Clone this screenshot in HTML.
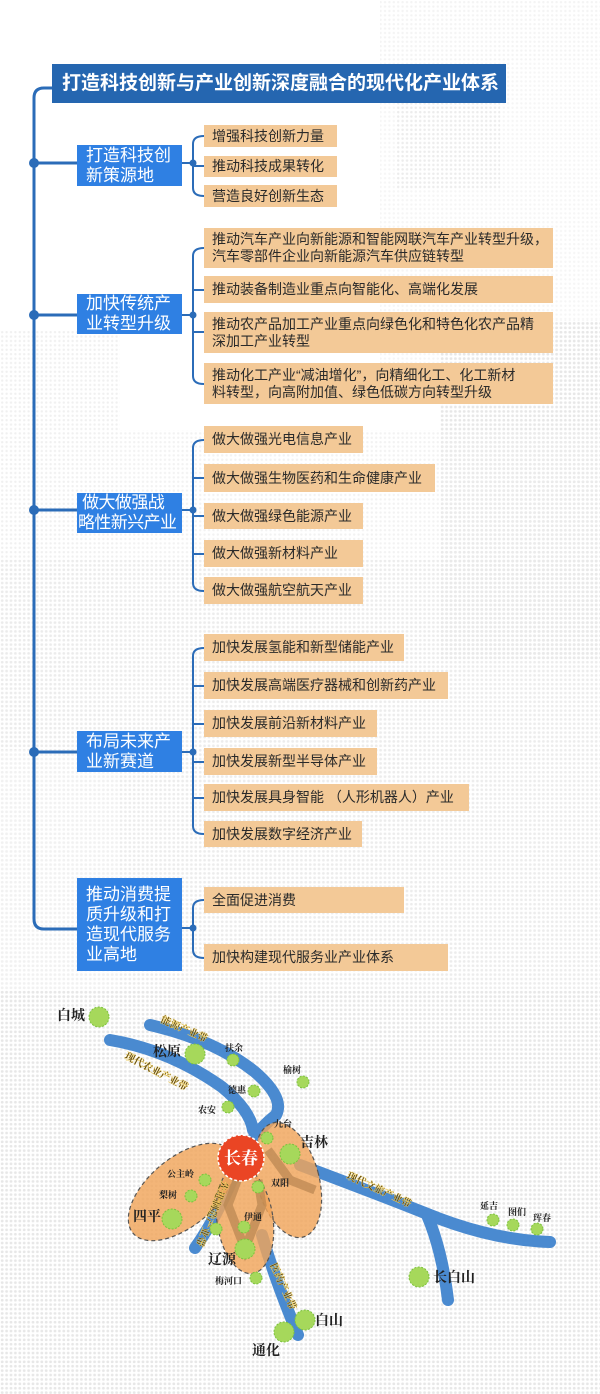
<!DOCTYPE html>
<html><head><meta charset="utf-8">
<style>
html,body{margin:0;padding:0;}
body{width:600px;height:1394px;position:relative;overflow:hidden;background:#fff;font-family:"Liberation Sans","Noto Sans CJK SC",sans-serif;}
.abs{position:absolute;}
.title{left:52px;top:64px;width:454px;height:39px;background:#2566b0;color:#fff;font-weight:bold;font-size:19px;line-height:39px;padding-left:10px;box-sizing:border-box;white-space:nowrap;}
.cat{left:77px;width:105px;background:#2f80e3;color:#fff;font-size:17px;line-height:20px;padding-left:9px;box-sizing:border-box;display:flex;align-items:center;white-space:nowrap;}
.it{left:204px;background:#f3c997;color:#2a2a2a;font-size:14px;line-height:17px;padding-left:8px;box-sizing:border-box;display:flex;align-items:center;white-space:nowrap;}
svg text{font-family:"Liberation Serif","Noto Serif CJK SC",serif;}
</style></head><body>
<svg class="abs" style="left:0;top:0" width="600" height="1394" viewBox="0 0 600 1394">
<defs>
<pattern id="dt" width="4.4" height="4.4" patternUnits="userSpaceOnUse"><circle cx="2.2" cy="2.2" r="1.2" fill="#e0e0e0"/></pattern>
<pattern id="dt2" width="4.4" height="4.4" patternUnits="userSpaceOnUse"><circle cx="2.2" cy="2.2" r="1.4" fill="#d8d8d8"/></pattern>
</defs>
<g opacity="0.6">
<rect x="380" y="0" width="220" height="60" fill="url(#dt)" opacity="0.6"/>
<rect x="395" y="100" width="105" height="90" fill="url(#dt)"/>
<rect x="380" y="60" width="220" height="340" fill="url(#dt)" opacity="0.5"/>
<rect x="440" y="320" width="160" height="340" fill="url(#dt2)"/>
<rect x="0" y="330" width="120" height="420" fill="url(#dt)" opacity="0.8"/>
<rect x="120" y="430" width="480" height="560" fill="url(#dt)" opacity="0.7"/>
<rect x="0" y="560" width="600" height="440" fill="url(#dt2)" opacity="0.6"/>
<rect x="0" y="990" width="600" height="404" fill="url(#dt2)"/>
</g>
<g stroke="#2b6cb8" stroke-width="3" fill="none">
<path d="M52,88 H44 Q34,88 34,98 V919 Q34,929 44,929 H77"/>
<path d="M34,163 H77 M34,315 H77 M34,510 H77 M34,752 H77"/>
</g>
<g fill="#2b6cb8"><circle cx="34" cy="163" r="5"/><circle cx="34" cy="315" r="5"/><circle cx="34" cy="510" r="5"/><circle cx="34" cy="752" r="5"/></g>
<g stroke="#2b6cb8" stroke-width="2" fill="none">
<path d="M182,163 H193 M204,136 Q193,136 193,144 V188 Q193,196 204,196 M193,166 H204"/>
<path d="M182,315 H193 M204,248 Q193,248 193,256 V376 Q193,384 204,384 M193,290 H204 M193,332 H204"/>
<path d="M182,510 H193 M204,440 Q193,440 193,448 V583 Q193,591 204,591 M193,478 H204 M193,516 H204 M193,554 H204"/>
<path d="M182,752 H193 M204,648 Q193,648 193,656 V826 Q193,834 204,834 M193,686 H204 M193,724 H204 M193,762 H204 M193,798 H204"/>
<path d="M182,928 H193 M204,900 Q193,900 193,908 V950 Q193,958 204,958"/>
</g>
<g fill="#2b6cb8"><circle cx="193" cy="163" r="3.5"/><circle cx="193" cy="315" r="3.5"/><circle cx="193" cy="510" r="3.5"/><circle cx="193" cy="752" r="3.5"/><circle cx="193" cy="928" r="3.5"/></g>

<!-- MAP -->
<g fill="none" stroke="#4a8ad0" stroke-width="12" stroke-linecap="round">
<path d="M150,1025 Q215,1040 255,1072 Q285,1098 276,1115 Q262,1126 252,1140 L241,1158"/>
<path d="M110,1040 Q170,1050 222,1087 Q250,1110 253,1130"/>
<path d="M300,1165 Q380,1195 425,1213 Q490,1240 550,1242"/>
<path d="M427,1215 Q442,1250 448,1300"/>
<path d="M262,1235 Q275,1280 298,1335"/>
<path d="M232,1180 Q215,1220 195,1248"/>
</g>
<g fill="#f0a55a" fill-opacity="0.82" stroke="#555" stroke-width="1.2" stroke-dasharray="4,3">
<ellipse cx="182" cy="1192" rx="64" ry="34" transform="rotate(-40 182 1192)"/>
<ellipse cx="288" cy="1180" rx="31" ry="59" transform="rotate(-15 288 1180)"/>
<ellipse cx="245" cy="1220" rx="28" ry="54" transform="rotate(-8 245 1220)"/>
</g>
<g stroke="#b88550" stroke-width="9" fill="none" opacity="0.7">
<path d="M241,1170 L228,1205 L245,1249 L262,1205 L258,1180"/>
<path d="M268,1150 L290,1180 L315,1190"/>
</g>
<g font-size="10" font-weight="bold" fill="#3a2a10" stroke="#f0d060" stroke-width="0.4">
<text x="160" y="1022" transform="rotate(24 160 1022)">能源产业带</text>
<text x="124" y="1058" transform="rotate(28 124 1058)">现代农业产业带</text>
<text x="346" y="1178" transform="rotate(25 346 1178)">现代文旅产业带</text>
<text x="270" y="1265" transform="rotate(66 270 1265)">医药产业带</text>
<text x="0" y="0" transform="translate(222,1180) rotate(112)">先进制造产业带</text>
</g>
<g fill="#a6d85b" stroke="#7cc23e" stroke-width="1" stroke-dasharray="2,1.5">
<circle cx="99" cy="1017" r="10"/><circle cx="195" cy="1054" r="10"/><circle cx="233" cy="1060" r="6"/>
<circle cx="303" cy="1082" r="6"/><circle cx="254" cy="1091" r="6"/><circle cx="228" cy="1107" r="6"/>
<circle cx="267" cy="1138" r="6"/><circle cx="290" cy="1154" r="10"/><circle cx="205" cy="1180" r="6"/>
<circle cx="191" cy="1196" r="6"/><circle cx="172" cy="1219" r="10"/><circle cx="258" cy="1187" r="6"/>
<circle cx="244" cy="1227" r="6"/><circle cx="245" cy="1249" r="10"/><circle cx="216" cy="1229" r="6"/>
<circle cx="256" cy="1278" r="6"/><circle cx="419" cy="1277" r="10"/><circle cx="305" cy="1320" r="10"/>
<circle cx="284" cy="1332" r="10"/><circle cx="493" cy="1220" r="6"/><circle cx="513" cy="1225" r="6"/><circle cx="537" cy="1229" r="6"/>
</g>
<circle cx="241" cy="1158" r="23" fill="#ea4524" stroke="#fff" stroke-width="1.5" stroke-dasharray="3,2"/>
<text x="241" y="1164" font-size="17" font-weight="bold" fill="#fff" text-anchor="middle">长春</text>
<g fill="#222" font-weight="bold">
<g font-size="14">
<text x="57" y="1020">白城</text><text x="153" y="1056">松原</text><text x="300" y="1147">吉林</text>
<text x="133" y="1221">四平</text><text x="208" y="1264">辽源</text><text x="433" y="1282">长白山</text>
<text x="315" y="1325">白山</text><text x="252" y="1355">通化</text>
</g>
<g font-size="9">
<text x="225" y="1051">扶余</text><text x="283" y="1073">榆树</text><text x="228" y="1093">德惠</text>
<text x="198" y="1113">农安</text><text x="274" y="1127">九台</text><text x="167" y="1177">公主岭</text>
<text x="159" y="1198">梨树</text><text x="271" y="1186">双阳</text><text x="244" y="1220">伊通</text>
<text x="215" y="1284">梅河口</text><text x="480" y="1209">延吉</text><text x="508" y="1215">图们</text><text x="533" y="1221">珲春</text>
</g></g>
</svg>

<div class="abs title">打造科技创新与产业创新深度融合的现代化产业体系</div>

<div class="abs cat" style="top:145px;height:41px;">打造科技创<br>新策源地</div>
<div class="abs cat" style="top:294px;height:40px;">加快传统产<br>业转型升级</div>
<div class="abs cat" style="top:493px;height:40px;padding-left:1px;font-size:17px;letter-spacing:-0.6px;">&nbsp;做大做强战<br>略性新兴产业</div>
<div class="abs cat" style="top:731px;height:41px;">布局未来产<br>业新赛道</div>
<div class="abs cat" style="top:878px;height:93px;">推动消费提<br>质升级和打<br>造现代服务<br>业高地</div>

<div class="abs it" style="top:125px;height:22px;width:133px;">增强科技创新力量</div>
<div class="abs it" style="top:156px;height:21px;width:133px;">推动科技成果转化</div>
<div class="abs it" style="top:185px;height:22px;width:133px;">营造良好创新生态</div>

<div class="abs it" style="top:228px;height:40px;width:349px;">推动汽车产业向新能源和智能网联汽车产业转型升级，<br>汽车零部件企业向新能源汽车供应链转型</div>
<div class="abs it" style="top:276px;height:27px;width:349px;">推动装备制造业重点向智能化、高端化发展</div>
<div class="abs it" style="top:312px;height:41px;width:349px;">推动农产品加工产业重点向绿色化和特色化农产品精<br>深加工产业转型</div>
<div class="abs it" style="top:363px;height:41px;width:349px;">推动化工产业“减油增化”，向精细化工、化工新材<br>料转型，向高附加值、绿色低碳方向转型升级</div>

<div class="abs it" style="top:426px;height:27px;width:159px;">做大做强光电信息产业</div>
<div class="abs it" style="top:464px;height:28px;width:231px;">做大做强生物医药和生命健康产业</div>
<div class="abs it" style="top:503px;height:26px;width:159px;">做大做强绿色能源产业</div>
<div class="abs it" style="top:540px;height:27px;width:159px;">做大做强新材料产业</div>
<div class="abs it" style="top:577px;height:27px;width:159px;">做大做强航空航天产业</div>

<div class="abs it" style="top:634px;height:27px;width:200px;">加快发展氢能和新型储能产业</div>
<div class="abs it" style="top:672px;height:27px;width:244px;">加快发展高端医疗器械和创新药产业</div>
<div class="abs it" style="top:710px;height:27px;width:173px;">加快发展前沿新材料产业</div>
<div class="abs it" style="top:748px;height:27px;width:173px;">加快发展新型半导体产业</div>
<div class="abs it" style="top:784px;height:27px;width:265px;">加快发展具身智能 （人形机器人）产业</div>
<div class="abs it" style="top:821px;height:26px;width:158px;">加快发展数字经济产业</div>

<div class="abs it" style="top:887px;height:26px;width:200px;">全面促进消费</div>
<div class="abs it" style="top:944px;height:27px;width:244px;">加快构建现代服务业产业体系</div>
</body></html>
